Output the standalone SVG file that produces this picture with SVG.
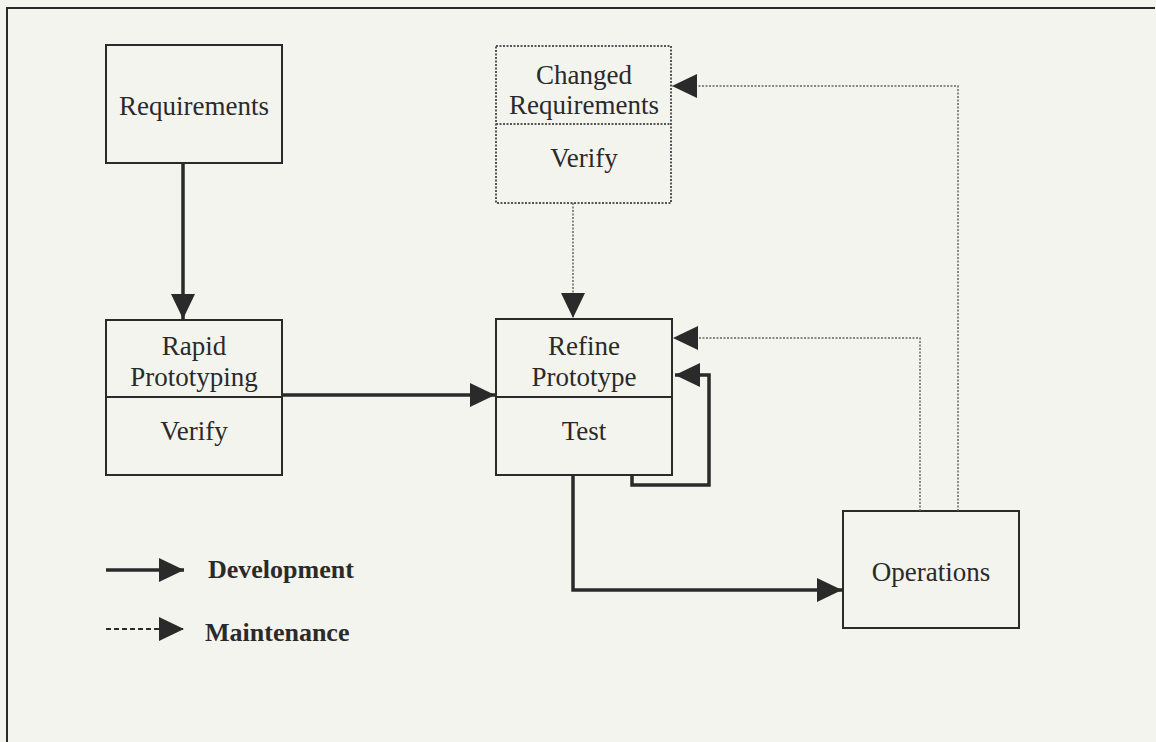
<svg xmlns="http://www.w3.org/2000/svg" width="1156" height="742" viewBox="0 0 1156 742">
<defs>
<marker id="ah" markerUnits="userSpaceOnUse" markerWidth="26" markerHeight="26" refX="25" refY="12" orient="auto"><path d="M0,0 L25,12 L0,24 Z" fill="#2a2a2a"/></marker>
<style>
.box{fill:none;stroke:#2a2a2a;stroke-width:2}
.dbox{fill:none;stroke:#555;stroke-width:2;stroke-dasharray:2 1.5}
.t{font-family:"Liberation Serif",serif;font-size:27px;fill:#2a2a2a;text-anchor:middle}
.b{font-family:"Liberation Serif",serif;font-size:26px;font-weight:bold;fill:#2a2a2a}
.solid{fill:none;stroke:#2a2a2a;stroke-width:3.5}
.dot{fill:none;stroke:#666;stroke-width:1.5;stroke-dasharray:2 1.5}
.dash{fill:none;stroke:#2a2a2a;stroke-width:2;stroke-dasharray:5 3}
</style>
</defs>
<rect width="1156" height="742" fill="#f4f4ee"/>
<path d="M7,750 V8 H1155" fill="none" stroke="#2a2a2a" stroke-width="2"/>
<g id="requirements"><rect class="box" x="106" y="45" width="176" height="118"/><text class="t" x="194" y="115">Requirements</text></g>
<g id="rapid"><rect class="box" x="106" y="320" width="176" height="155"/><line class="box" x1="106" y1="397" x2="282" y2="397"/><text class="t" x="194" y="355">Rapid</text><text class="t" x="194" y="386">Prototyping</text><text class="t" x="194" y="440">Verify</text></g>
<g id="refine"><rect class="box" x="496" y="319" width="176" height="156"/><line class="box" x1="496" y1="397" x2="672" y2="397"/><text class="t" x="584" y="355">Refine</text><text class="t" x="584" y="386">Prototype</text><text class="t" x="584" y="440">Test</text></g>
<g id="changed"><rect class="dbox" x="496" y="46" width="175" height="157"/><line class="dbox" x1="496" y1="124" x2="671" y2="124"/><text class="t" x="584" y="84">Changed</text><text class="t" x="584" y="114">Requirements</text><text class="t" x="584" y="167">Verify</text></g>
<g id="operations"><rect class="box" x="843" y="511" width="176" height="117"/><text class="t" x="931" y="581">Operations</text></g>
<g id="connectors">
<line class="solid" x1="183" y1="163" x2="183" y2="319" marker-end="url(#ah)"/>
<line class="solid" x1="282" y1="395" x2="495" y2="395" marker-end="url(#ah)"/>
<path class="solid" d="M632,475 V485 H709 V375 H675" marker-end="url(#ah)"/>
<path class="solid" d="M573,475 V590 H842" marker-end="url(#ah)"/>
<line class="dot" x1="573" y1="203" x2="573" y2="318" marker-end="url(#ah)"/>
<path class="dot" d="M920,511 V338 H673" marker-end="url(#ah)"/>
<path class="dot" d="M958,511 V86 H672" marker-end="url(#ah)"/>
</g>
<g id="legend">
<line class="solid" x1="106" y1="570" x2="184" y2="570" marker-end="url(#ah)"/>
<text class="b" x="208" y="578">Development</text>
<line class="dash" x1="106" y1="629" x2="184" y2="629" marker-end="url(#ah)"/>
<text class="b" x="205" y="641">Maintenance</text>
</g>
</svg>
